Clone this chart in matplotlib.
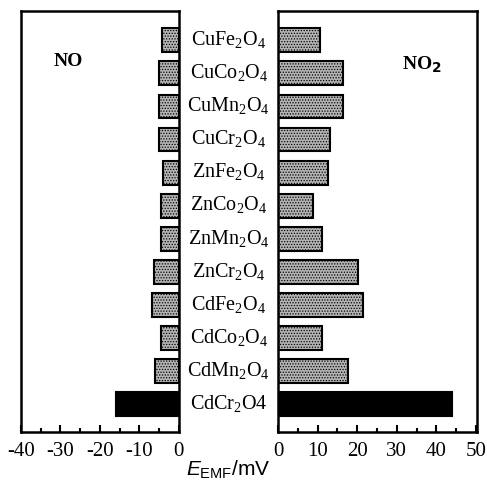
import matplotlib

matplotlib.use("Agg")
import matplotlib.pyplot as plt
import matplotlib.transforms as mtransforms
from matplotlib.ticker import MultipleLocator
import numpy as np

# compounds listed top to bottom as in the figure
compounds = [
    r"CuFe$_2$O$_4$", r"CuCo$_2$O$_4$", r"CuMn$_2$O$_4$", r"CuCr$_2$O$_4$",
    r"ZnFe$_2$O$_4$", r"ZnCo$_2$O$_4$", r"ZnMn$_2$O$_4$", r"ZnCr$_2$O$_4$",
    r"CdFe$_2$O$_4$", r"CdCo$_2$O$_4$", r"CdMn$_2$O$_4$", r"CdCr$_2$O4",
]
emf_no = [-4.2, -5.1, -5.1, -5.1, -4.1, -4.5, -4.4, -6.3, -6.9, -4.6, -6.0, -15.9]
emf_no2 = [10.6, 16.4, 16.4, 13.0, 12.7, 8.8, 11.2, 20.1, 21.4, 11.1, 17.6, 43.8]
highlight = "CdCr"

plt.rcParams["font.family"] = "Liberation Serif"
plt.rcParams["mathtext.fontset"] = "custom"
plt.rcParams["mathtext.rm"] = "Liberation Serif"
plt.rcParams["mathtext.it"] = "Liberation Sans:italic"
plt.rcParams["mathtext.sf"] = "Liberation Sans"
plt.rcParams["hatch.color"] = "#6e6e6e"
plt.rcParams["hatch.linewidth"] = 0.6

fig = plt.figure(figsize=(4.87, 4.82), dpi=100)
ax_l = fig.add_axes([0.043, 0.104, 0.324, 0.873])
ax_r = fig.add_axes([0.571, 0.104, 0.409, 0.873])

n = len(compounds)
ypos = np.arange(n)[::-1]
is_hl = [c.startswith(highlight) for c in compounds]
colors = ["black" if h else "#b4b4b4" for h in is_hl]
hatches = [None if h else "......" for h in is_hl]

for ax, vals in ((ax_l, emf_no), (ax_r, emf_no2)):
    bars = ax.barh(ypos, vals, height=0.72, color=colors, edgecolor="black", linewidth=1.5)
    for b, h in zip(bars, hatches):
        if h:
            b.set_hatch(h)

ax_l.set_xlim(-40, 0)
ax_r.set_xlim(0, 50.3)
for ax in (ax_l, ax_r):
    ax.set_ylim(-0.83, n - 1 + 0.88)
    ax.set_yticks([])
    ax.xaxis.set_major_locator(MultipleLocator(10))
    ax.xaxis.set_minor_locator(MultipleLocator(5))
    ax.tick_params(axis="x", which="major", direction="in", length=5, width=1.5,
                   labelsize=15, pad=7)
    ax.tick_params(axis="x", which="minor", direction="in", length=3, width=1.5)
    for sp in ax.spines.values():
        sp.set_linewidth(1.8)

ax_l.set_xticks([-40, -30, -20, -10, 0])
ax_l.set_xticklabels(["-40", "-30", "-20", "-10", "0"])

# compound names between the two panels
trans = mtransforms.blended_transform_factory(fig.transFigure, ax_l.transData)
for y, name in zip(ypos, compounds):
    ax_l.text(0.47, y, name, transform=trans, ha="center", va="center",
              fontsize=14.5, clip_on=False)

ax_l.text(0.30, 0.88, "NO", transform=ax_l.transAxes, ha="center", va="center",
          fontsize=14, fontweight="bold")
ax_r.text(0.72, 0.875, r"NO$_\mathbf{2}$", transform=ax_r.transAxes, ha="center",
          va="center", fontsize=14, fontweight="bold")

fig.text(0.468, 0.026, r"$\mathit{E}_{\mathsf{EMF}}\mathsf{/mV}$", ha="center",
         va="center", fontsize=15)

fig.savefig("out.png", dpi=100)
